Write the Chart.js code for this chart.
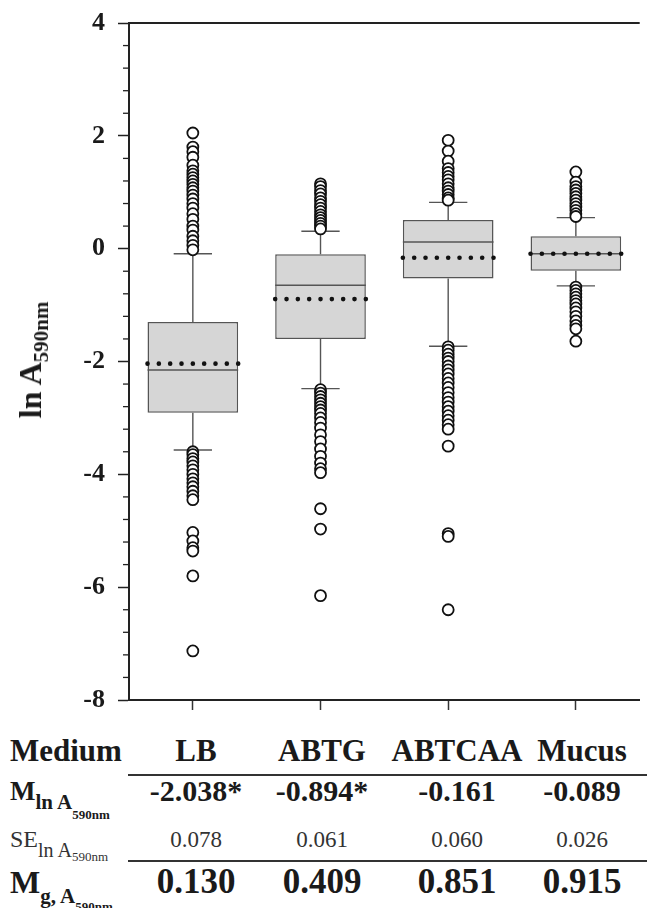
<!DOCTYPE html>
<html>
<head>
<meta charset="utf-8">
<script src="https://cdn.jsdelivr.net/npm/chart.js@4.4.1/dist/chart.umd.min.js"></script>
<style>
  body { margin: 0; background: #fff; }
  #wrap { position: relative; width: 647px; height: 908px; overflow: hidden; font-family: "Liberation Serif", "Times New Roman", serif; color: #1a1a1a; }
  #chart { position: absolute; left: 0; top: 0; }
  .ytitle { position: absolute; left: 33px; top: 360px; transform: translate(-50%, -50%) rotate(-90deg); white-space: nowrap; font-weight: bold; font-size: 32px; line-height: 1; }
  .ytitle span { font-size: 21px; vertical-align: -7px; }
  .cell { position: absolute; transform: translateX(-50%); white-space: nowrap; line-height: 1; }
  .lab { position: absolute; left: 10px; white-space: nowrap; line-height: 1; }
  .rule { position: absolute; left: 128px; right: 0; height: 2px; background: #333; }
</style>
</head>
<body>
<div id="wrap">
  <canvas id="chart" width="647" height="722"></canvas>
  <div class="ytitle">ln A<span>590nm</span></div>
  <div id="table"></div>
</div>
<script>
// categories and box statistics (ln A590nm)
const categories = ['LB', 'ABTG', 'ABTCAA', 'Mucus'];
const q1 = [-2.91, -1.60, -0.53, -0.39];
const q3 = [-1.30, -0.10, 0.51, 0.22];
const medians = [-2.15, -0.65, 0.12, -0.09];
const means = [-2.038, -0.894, -0.161, -0.089];
const whiskerLow = [-3.57, -2.48, -1.73, -0.66];
const whiskerHigh = [-0.09, 0.31, 0.82, 0.55];

// outliers per medium
const outliersLB = [2.05, 1.80, 1.72, 1.62, 1.48, 1.38, 1.32, 1.26, 1.20, 1.14, 1.08, 1.02, 0.95, 0.88, 0.80, 0.72, 0.62, 0.52, 0.40, 0.33, 0.22, 0.14, 0.06, -0.02,
  -3.60, -3.65, -3.72, -3.78, -3.85, -3.92, -4.00, -4.08, -4.15, -4.22, -4.30, -4.38, -4.45, -5.03, -5.18, -5.30, -5.36, -5.80, -7.13];
const outliersABTG = [1.15, 1.10, 1.03, 0.97, 0.90, 0.84, 0.78, 0.72, 0.66, 0.60, 0.55, 0.50, 0.45, 0.40, 0.35,
  -2.50, -2.56, -2.62, -2.68, -2.74, -2.80, -2.86, -2.92, -3.00, -3.08, -3.18, -3.30, -3.42, -3.55, -3.68, -3.80, -3.90, -3.97, -4.61, -4.97, -6.15];
const outliersABTCAA = [1.92, 1.73, 1.55, 1.42, 1.35, 1.28, 1.22, 1.15, 1.08, 1.02, 0.96, 0.90, 0.86,
  -1.74, -1.80, -1.87, -1.94, -2.00, -2.08, -2.15, -2.22, -2.30, -2.38, -2.46, -2.55, -2.64, -2.72, -2.80, -2.88, -2.96, -3.04, -3.12, -3.20, -3.50, -5.05, -5.10, -6.40];
const outliersMucus = [1.36, 1.18, 1.10, 1.04, 0.98, 0.92, 0.86, 0.80, 0.74, 0.68, 0.62, 0.57,
  -0.68, -0.74, -0.80, -0.86, -0.92, -0.98, -1.05, -1.12, -1.20, -1.28, -1.36, -1.42, -1.64];

// table under the chart
const meanLn = [-2.038, -0.894, -0.161, -0.089];
const significant = [true, true, false, false];
const seLn = [0.078, 0.061, 0.060, 0.026];
const meanG = [0.130, 0.409, 0.851, 0.915];

const yTicksMajor = 2;

const outliers = [outliersLB, outliersABTG, outliersABTCAA, outliersMucus];
const scatterData = [];
outliers.forEach((list, i) => list.forEach(v => scatterData.push({ x: categories[i], y: v })));

const isMajor = v => Math.abs(Math.round(v * 10) % (yTicksMajor * 10)) === 0;

const boxParts = {
  id: 'boxParts',
  beforeDatasetsDraw(chart) {
    const { ctx, scales: { x, y } } = chart;
    const capHalf = x.width / categories.length * 0.15;
    ctx.save();
    ctx.strokeStyle = '#555';
    ctx.lineWidth = 1.4;
    categories.forEach((c, i) => {
      const cx = x.getPixelForValue(i);
      const hi = y.getPixelForValue(whiskerHigh[i]);
      const lo = y.getPixelForValue(whiskerLow[i]);
      ctx.beginPath();
      ctx.moveTo(cx, y.getPixelForValue(q3[i])); ctx.lineTo(cx, hi);
      ctx.moveTo(cx, y.getPixelForValue(q1[i])); ctx.lineTo(cx, lo);
      ctx.moveTo(cx - capHalf, hi); ctx.lineTo(cx + capHalf, hi);
      ctx.moveTo(cx - capHalf, lo); ctx.lineTo(cx + capHalf, lo);
      ctx.stroke();
    });
    ctx.restore();
  },
  afterDatasetsDraw(chart) {
    const { ctx, scales: { y } } = chart;
    const bars = chart.getDatasetMeta(0).data;
    ctx.save();
    bars.forEach((el, i) => {
      const left = el.x - el.width / 2;
      const my = y.getPixelForValue(medians[i]);
      ctx.strokeStyle = '#555';
      ctx.lineWidth = 1.5;
      ctx.beginPath();
      ctx.moveTo(left, my); ctx.lineTo(left + el.width, my);
      ctx.stroke();
      // dotted mean line
      const ay = y.getPixelForValue(means[i]);
      ctx.fillStyle = '#111';
      for (let j = 0; j <= 8; j++) {
        ctx.beginPath();
        ctx.arc(left + el.width * j / 8, ay, 2.3, 0, Math.PI * 2);
        ctx.fill();
      }
    });
    ctx.restore();
  },
  afterDraw(chart) {
    const { ctx, chartArea, scales: { y } } = chart;
    ctx.save();
    ctx.strokeStyle = '#222';
    ctx.lineWidth = 2;
    ctx.beginPath();
    ctx.moveTo(chartArea.left, chartArea.top); ctx.lineTo(chartArea.right, chartArea.top);
    ctx.stroke();
    ctx.lineWidth = 1.3;
    y.ticks.forEach((t, k) => {
      if (isMajor(t.value)) return;
      const py = y.getPixelForTick(k);
      ctx.beginPath();
      ctx.moveTo(chartArea.left - 6, py); ctx.lineTo(chartArea.left, py);
      ctx.stroke();
    });
    ctx.restore();
  }
};

new Chart(document.getElementById('chart'), {
  type: 'bar',
  data: {
    labels: categories,
    datasets: [
      {
        type: 'bar',
        data: q1.map((v, i) => [v, q3[i]]),
        backgroundColor: '#d6d6d6',
        borderColor: '#555',
        borderWidth: 1.5,
        borderSkipped: false,
        barPercentage: 0.71,
        categoryPercentage: 1.0,
        order: 2
      },
      {
        type: 'scatter',
        data: scatterData,
        pointStyle: 'circle',
        pointRadius: 5.5,
        pointBorderWidth: 1.8,
        pointBorderColor: '#111',
        pointBackgroundColor: '#fff',
        order: 1
      }
    ]
  },
  options: {
    responsive: false,
    animation: false,
    layout: { padding: { top: 23, left: 0, right: 0, bottom: 0 } },
    plugins: { legend: { display: false }, tooltip: { enabled: false } },
    scales: {
      x: {
        type: 'category',
        offset: true,
        grid: { display: true, drawOnChartArea: false, offset: false, tickLength: 10, tickColor: '#333', tickWidth: 1.5 },
        border: { display: true, color: '#222', width: 2 },
        ticks: { display: false },
        afterFit(scale) { scale.height = 22; }
      },
      y: {
        min: -8,
        max: 4,
        grid: {
          drawOnChartArea: false,
          tickLength: 11,
          tickWidth: 1.5,
          tickColor: ctx => isMajor(ctx.tick.value) ? '#222' : 'rgba(0,0,0,0)'
        },
        border: { display: true, color: '#222', width: 2 },
        ticks: {
          stepSize: 0.4,
          autoSkip: false,
          padding: 13,
          color: '#1a1a1a',
          font: { family: 'Liberation Serif', weight: 'bold', size: 26, lineHeight: 0.5 },
          callback: v => isMajor(v) ? String(Math.round(v)) : ''
        },
        afterFit(scale) { scale.width = 129; }
      }
    }
  },
  plugins: [boxParts]
});

// table below the plot
const colX = [196, 322, 457, 582];
const table = document.getElementById('table');
function place(html, cls, x, baseline, size, weight, color) {
  const d = document.createElement('div');
  d.className = cls;
  d.innerHTML = html;
  d.style.fontSize = size + 'px';
  d.style.fontWeight = weight;
  d.style.top = (baseline - 0.8375 * size) + 'px';
  if (x !== null) d.style.left = x + 'px';
  if (color) d.style.color = color;
  table.appendChild(d);
}
place('Medium', 'lab', null, 761, 31, 'bold');
categories.forEach((c, i) => place(c, 'cell', colX[i], 761, 31, 'bold'));

place('M<span style="font-size:21px;vertical-align:-9px">ln A<span style="font-size:13px;vertical-align:-10px">590nm</span></span>', 'lab', null, 801, 27, 'bold');
meanLn.forEach((v, i) => place(v.toFixed(3) + (significant[i] ? '*' : ''), 'cell', colX[i], 801, 30, 'bold'));

place('SE<span style="font-size:20px;vertical-align:-10px">ln A<span style="font-size:13px;vertical-align:-4px">590nm</span></span>', 'lab', null, 847, 24, 'normal', '#333');
seLn.forEach((v, i) => place(v.toFixed(3), 'cell', colX[i], 847, 23, 'normal', '#333'));

place('M<span style="font-size:21px;vertical-align:-10px">g, A<span style="font-size:13px;vertical-align:-8px">590nm</span></span>', 'lab', null, 893, 32, 'bold');
meanG.forEach((v, i) => place(v.toFixed(3), 'cell', colX[i], 893, 35, 'bold'));

[774, 860].forEach(t => {
  const r = document.createElement('div');
  r.className = 'rule';
  r.style.top = t + 'px';
  table.appendChild(r);
});
</script>
</body>
</html>
